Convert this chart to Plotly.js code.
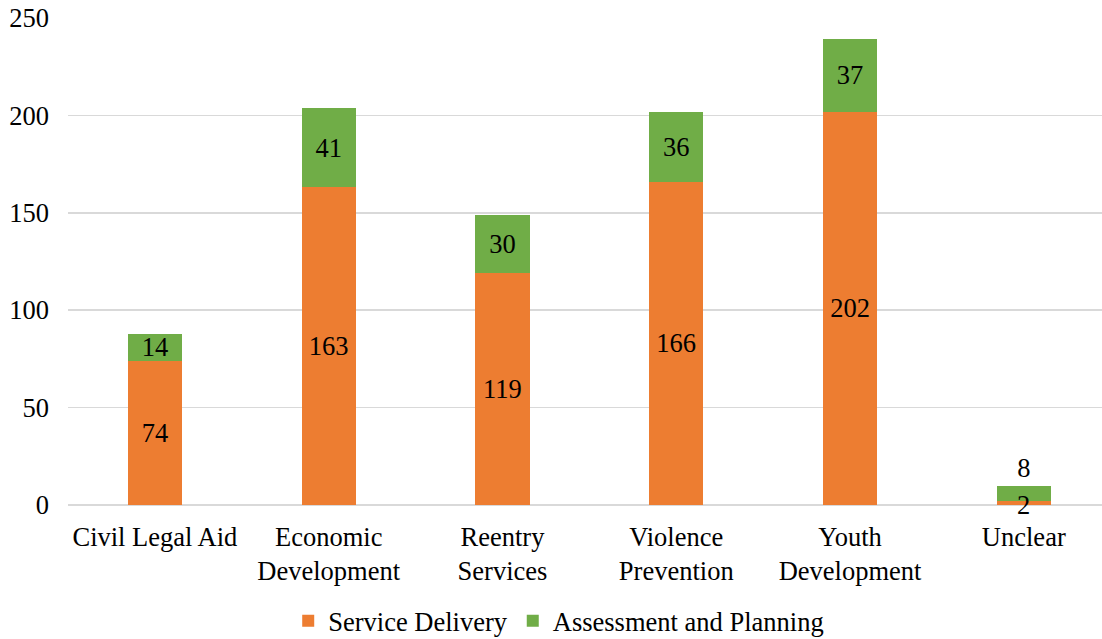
<!DOCTYPE html>
<html>
<head>
<meta charset="utf-8">
<script src="https://cdn.plot.ly/plotly-3.0.1.min.js"></script>
<style>html,body{margin:0;padding:0;background:#fff;}#chart{width:1102px;height:639px;}</style>
</head>
<body>
<div id="chart"></div>
<script>
var categories = ["Civil Legal Aid", "Economic<br>Development", "Reentry<br>Services", "Violence<br>Prevention", "Youth<br>Development", "Unclear"];
var serviceDelivery = [74, 163, 119, 166, 202, 2];
var assessmentPlanning = [14, 41, 30, 36, 37, 8];
var yTicks = [0, 50, 100, 150, 200, 250];

var FONT = "Liberation Serif";
var FS = 26.5;

var greenPos = assessmentPlanning.map(function (v) { return v < 12 ? 'outside' : 'inside'; });
// tiny orange segments get their label as an annotation so it sits above the green bar
var orangeText = serviceDelivery.map(function (v) { return v < 5 ? '' : String(v); });
var annotations = [];
serviceDelivery.forEach(function (v, i) {
  if (v < 5) {
    annotations.push({
      x: categories[i], y: v / 2, xref: 'x', yref: 'y', text: String(v),
      showarrow: false, yanchor: 'middle', yshift: -2,
      font: {family: FONT, size: FS, color: '#000'}
    });
  }
});

var traces = [
  {
    type: 'bar', name: 'Service Delivery', x: categories, y: serviceDelivery,
    marker: {color: '#ED7D31'},
    text: orangeText, textposition: 'inside', insidetextanchor: 'middle',
    textangle: 0, constraintext: 'none',
    textfont: {family: FONT, size: FS, color: '#000'},
    insidetextfont: {family: FONT, size: FS, color: '#000'},
    hoverinfo: 'none', cliponaxis: false
  },
  {
    type: 'bar', name: 'Assessment and Planning', x: categories, y: assessmentPlanning,
    marker: {color: '#70AD47'},
    text: assessmentPlanning.map(String), textposition: greenPos, insidetextanchor: 'middle',
    textangle: 0, constraintext: 'none',
    textfont: {family: FONT, size: FS, color: '#000'},
    insidetextfont: {family: FONT, size: FS, color: '#000'},
    outsidetextfont: {family: FONT, size: FS, color: '#000'},
    hoverinfo: 'none', cliponaxis: false
  }
];

var layout = {
  width: 1102, height: 639,
  margin: {l: 68, r: 0, t: 18, b: 134},
  paper_bgcolor: '#fff', plot_bgcolor: '#fff',
  barmode: 'stack', bargap: 0.6875,
  font: {family: FONT, size: FS, color: '#000'},
  xaxis: {
    range: [-0.5, 5.45], type: 'category', showgrid: false, showline: false,
    ticks: '', ticklabelstandoff: 13,
    tickfont: {family: FONT, size: FS, color: '#000'}, fixedrange: true
  },
  yaxis: {
    range: [0, 250], tickvals: yTicks, ticktext: yTicks.map(String),
    showgrid: true, gridcolor: '#D9D9D9', gridwidth: 1.5,
    zeroline: true, zerolinecolor: '#D9D9D9', zerolinewidth: 1.5,
    showline: false, ticks: '', ticklabelstandoff: 18,
    tickfont: {family: FONT, size: FS, color: '#000'}, fixedrange: true
  },
  annotations: annotations,
  showlegend: true,
  legend: {
    orientation: 'h', xref: 'container', yref: 'container',
    x: 0.507, xanchor: 'center', y: 0.028, yanchor: 'middle',
    font: {family: FONT, size: FS, color: '#000'},
    traceorder: 'normal', itemclick: false, itemdoubleclick: false
  }
};

Plotly.newPlot('chart', traces, layout, {displayModeBar: false, staticPlot: true});
</script>
</body>
</html>
